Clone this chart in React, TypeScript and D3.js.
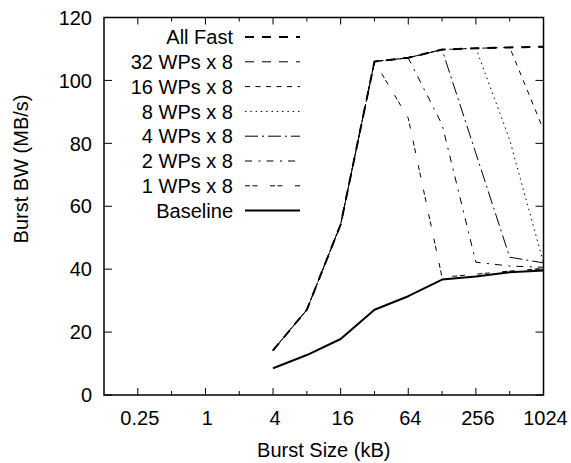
import React from "react";
import * as d3 from "d3";

// burst sizes in kB
const burstSizes = [4, 8, 16, 32, 64, 128, 256, 512, 1024];

const allFast = [14.2, 27.1, 54.2, 106.0, 107.2, 109.8, 110.2, 110.5, 110.7];
const wp32 = [14.2, 27.1, 54.2, 106.0, 107.2, 109.8, 110.2, 110.5, 110.6];
const wp16 = [14.2, 27.1, 54.2, 106.0, 107.2, 109.8, 110.2, 110.5, 84.3];
const wp8 = [14.2, 27.1, 54.2, 106.0, 107.2, 109.8, 110.3, 81.1, 42.0];
const wp4 = [14.2, 27.1, 54.2, 106.0, 107.2, 109.8, 76.8, 43.8, 42.0];
const wp2 = [14.2, 27.1, 54.2, 106.0, 107.1, 86.0, 42.2, 41.0, 40.6];
const wp1 = [14.2, 27.1, 54.2, 106.0, 88.0, 37.4, 38.4, 39.4, 40.2];
const baseline = [8.5, 12.7, 17.8, 27.1, 31.4, 36.7, 37.7, 39.0, 39.6];

const xTickLabels = ["0.25", "1", "4", "16", "64", "256", "1024"];
const xMinorTicks = [0.5, 2, 8, 32, 128, 512];
const yTicks = [0, 20, 40, 60, 80, 100, 120];

const seriesNames = [
  "All Fast",
  "32 WPs x 8",
  "16 WPs x 8",
  "8 WPs x 8",
  "4 WPs x 8",
  "2 WPs x 8",
  "1 WPs x 8",
  "Baseline",
];
const seriesValues = [allFast, wp32, wp16, wp8, wp4, wp2, wp1, baseline];

const styles = [
  { dash: "9,8", w: 2 },
  { dash: "9,8", w: 1 },
  { dash: "5,5.5", w: 1 },
  { dash: "1.5,3.8", w: 1 },
  { dash: "13,4,2,4", w: 1 },
  { dash: "7,6.5,2,6", w: 1 },
  { dash: "5,2.5,5,12.5", w: 1 },
  { dash: "none", w: 2 },
];

const W = 571;
const H = 463;
const left = 104;
const right = 543.5;
const top = 17.5;
const bottom = 395;
const font = "'Liberation Sans', Arial, Helvetica, sans-serif";

export default function App() {
  const x = d3.scaleLog().base(2).domain([0.125, 1024]).range([left, right]);
  const y = d3.scaleLinear().domain([0, 120]).range([bottom, top]);

  const line = d3
    .line<number>()
    .x((_, i) => x(burstSizes[i]))
    .y((d) => y(d));

  const legendX = 233;
  const legendY0 = 37;
  const legendStep = 24.8;

  return (
    <svg
      width={W}
      height={H}
      style={{ position: "absolute", left: 0, top: 0, background: "#fff" }}
      fontFamily={font}
      fontSize={20}
    >
      <rect x={0} y={0} width={W} height={H} fill="#fff" />

      {/* y ticks */}
      {yTicks.map((t) => (
        <g key={"y" + t}>
          <line x1={left} x2={left + 8} y1={y(t)} y2={y(t)} stroke="#000" />
          <line x1={right} x2={right - 8} y1={y(t)} y2={y(t)} stroke="#000" />
          <text x={92} y={y(t)} dy="0.36em" textAnchor="end">
            {t}
          </text>
        </g>
      ))}

      {/* x ticks */}
      {xTickLabels.map((t) => {
        const v = +t;
        return (
          <g key={"x" + t}>
            <line x1={x(v)} x2={x(v)} y1={bottom} y2={bottom - 7} stroke="#000" />
            <line x1={x(v)} x2={x(v)} y1={top} y2={top + 7} stroke="#000" />
            <text x={x(v) + 2} y={425} textAnchor="middle">
              {t}
            </text>
          </g>
        );
      })}
      {xMinorTicks.map((v) => (
        <g key={"m" + v}>
          <line x1={x(v)} x2={x(v)} y1={bottom} y2={bottom - 4} stroke="#000" />
          <line x1={x(v)} x2={x(v)} y1={top} y2={top + 4} stroke="#000" />
        </g>
      ))}

      {/* series */}
      {seriesValues.map((vals, i) => (
        <path
          key={"s" + i}
          d={line(vals) || ""}
          fill="none"
          stroke="#000"
          strokeWidth={styles[i].w}
          strokeDasharray={styles[i].dash}
          strokeLinejoin="round"
        />
      ))}

      {/* legend */}
      {seriesNames.map((name, i) => {
        const ly = legendY0 + i * legendStep;
        return (
          <g key={"l" + i}>
            <text x={legendX} y={ly} dy="0.36em" textAnchor="end">
              {name}
            </text>
            <line
              x1={245}
              x2={300}
              y1={ly}
              y2={ly}
              stroke="#000"
              strokeWidth={styles[i].w}
              strokeDasharray={styles[i].dash}
            />
          </g>
        );
      })}

      {/* frame */}
      <rect
        x={left}
        y={top}
        width={right - left}
        height={bottom - top}
        fill="none"
        stroke="#000"
        strokeWidth={1.5}
      />

      {/* axis titles */}
      <text x={(left + right) / 2} y={457} textAnchor="middle">
        Burst Size (kB)
      </text>
      <text
        transform={`translate(28,${169}) rotate(-90)`}
        textAnchor="middle"
      >
        Burst BW (MB/s)
      </text>
    </svg>
  );
}
